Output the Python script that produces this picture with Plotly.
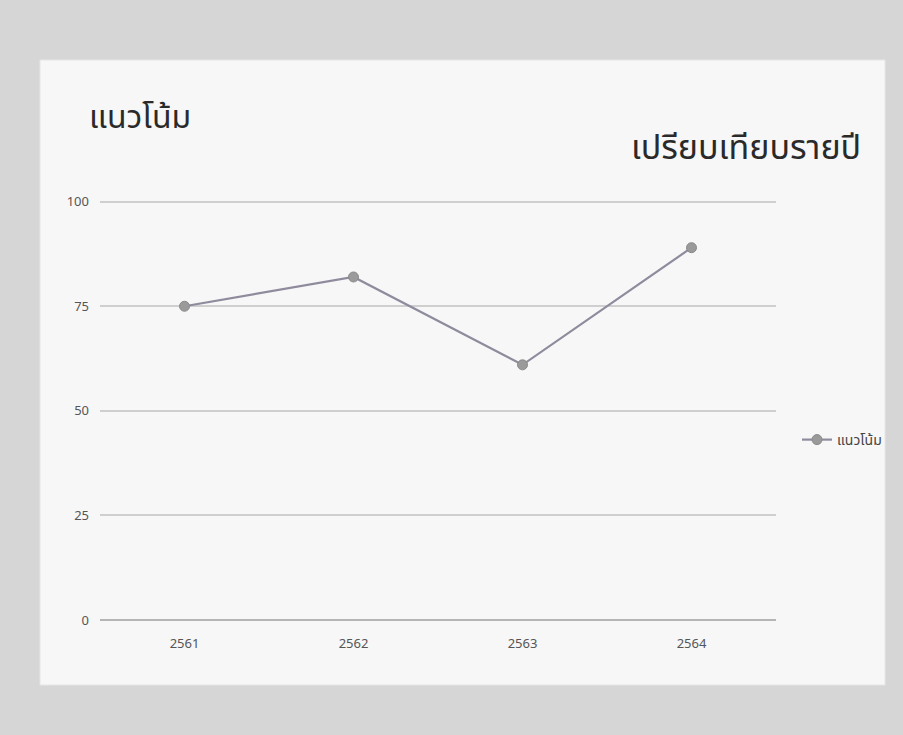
import plotly.graph_objects as go

years = ["2561", "2562", "2563", "2564"]
values = [75, 82, 61, 89]
series_name = "แนวโน้ม"
title_left = "แนวโน้ม"
title_right = "เปรียบเทียบรายปี"
y_ticks = [0, 25, 50, 75, 100]

W, H = 903, 735
L, R, T, B = 100, 127, 200, 115
pw, ph = W - L - R, H - T - B

def px_x(x):
    return (x - L) / pw

def px_y(y):
    return (H - B - y) / ph

fig = go.Figure()
fig.add_trace(go.Scatter(
    x=years, y=values, name=series_name, mode="lines+markers",
    line=dict(color="#8f8b9c", width=2.2),
    marker=dict(color="#9a9a9a", size=10, line=dict(color="#8a8a8a", width=1)),
))

fig.add_shape(type="rect", xref="paper", yref="paper",
              x0=px_x(40), x1=px_x(885), y0=px_y(685), y1=px_y(60),
              fillcolor="#f7f7f7", line=dict(color="#e6e6e6", width=1), layer="below")

title_font = "Noto Sans Thai, Noto Sans, Lato, sans-serif"
font_family = "Noto Sans, Lato, sans-serif"
fig.add_annotation(text=title_left, xref="paper", yref="paper",
                   x=px_x(87), y=px_y(118), xanchor="left", yanchor="middle",
                   showarrow=False, font=dict(size=32, color="#2a2a2a", family=title_font))
fig.add_annotation(text=title_right, xref="paper", yref="paper",
                   x=px_x(863), y=px_y(148), xanchor="right", yanchor="middle",
                   showarrow=False, font=dict(size=34, color="#2a2a2a", family=title_font))

fig.update_layout(
    width=W, height=H,
    margin=dict(l=L, r=R, t=T, b=B),
    paper_bgcolor="#d6d6d6",
    plot_bgcolor="rgba(0,0,0,0)",
    font=dict(family=font_family, color="#555555", size=12),
    showlegend=True,
    legend=dict(x=px_x(797), y=px_y(440), xanchor="left", yanchor="middle",
                bgcolor="rgba(0,0,0,0)",
                font=dict(size=14, color="#444444", family=title_font)),
    xaxis=dict(type="category", range=[-0.5, 3.5], showgrid=False, zeroline=False,
               showline=False, ticks="", tickfont=dict(size=13, color="#555555"),
               ticklabelstandoff=14),
    yaxis=dict(range=[0, 100.4], tickvals=y_ticks, showgrid=True, gridcolor="#cfcfcf",
               gridwidth=1.5, zeroline=True, zerolinecolor="#b5b5b5", zerolinewidth=2,
               showline=False, ticks="", tickfont=dict(size=13, color="#555555"),
               ticklabelstandoff=10),
)

fig.write_html("out.html")
